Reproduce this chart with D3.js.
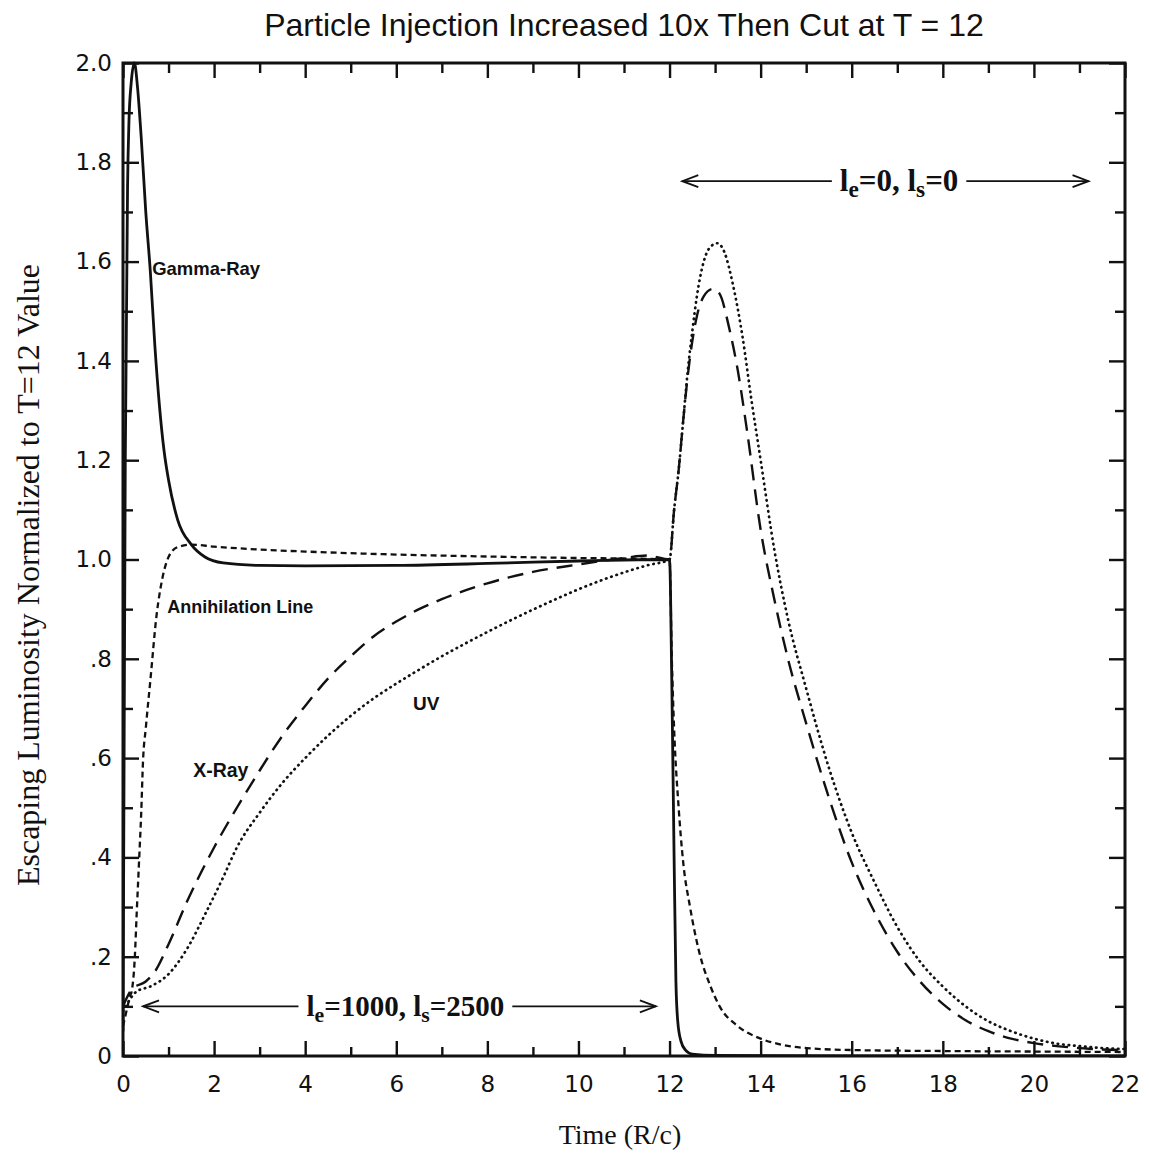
<!DOCTYPE html>
<html><head><meta charset="utf-8">
<script src="https://cdn.jsdelivr.net/npm/d3@7"></script>
<style>html,body{margin:0;padding:0;background:#fff;}</style>
</head><body>
<svg id="c" width="1149" height="1154"></svg>
<script>
// ---------- data ----------
const title = "Particle Injection Increased 10x Then Cut at T = 12";
const xTitle = "Time (R/c)";
const yTitle = "Escaping Luminosity Normalized to T=12 Value";
const xMajor = [0,2,4,6,8,10,12,14,16,18,20,22];
const xMinor = [1,3,5,7,9,11,13,15,17,19,21];
const yMajor = [0,0.2,0.4,0.6,0.8,1.0,1.2,1.4,1.6,1.8,2.0];
const yMajorLabels = ["0",".2",".4",".6",".8","1.0","1.2","1.4","1.6","1.8","2.0"];
const yMinor = [0.1,0.3,0.5,0.7,0.9,1.1,1.3,1.5,1.7,1.9];

const gammaT = [0,0.05,0.1,0.13,0.18,0.25,0.32,0.4,0.5,0.6,0.7,0.8,0.9,1.0,1.2,1.5,1.8,2.2,3,4,6,8,10,11,12,12.05,12.1,12.14,12.18,12.25,12.35,12.5,13,16,22];
const gammaV = [0.05,1.2,1.75,1.88,1.96,2.0,1.95,1.85,1.7,1.58,1.43,1.31,1.22,1.16,1.08,1.03,1.005,0.993,0.988,0.987,0.988,0.992,0.997,0.999,1.0,0.75,0.4,0.15,0.07,0.03,0.012,0.004,0.001,0,0];

const annT = [0,0.1,0.15,0.19,0.26,0.3,0.35,0.4,0.44,0.5,0.6,0.74,0.86,1.0,1.2,1.5,2,3,4,6,8,10,11,12,12.05,12.1,12.2,12.3,12.45,12.65,12.9,13.1,13.5,14,14.5,15,16,18,20,22];
const annV = [0.06,0.1,0.12,0.13,0.2,0.286,0.387,0.49,0.595,0.66,0.756,0.89,0.96,1.005,1.025,1.03,1.026,1.02,1.016,1.01,1.006,1.003,1.002,1.0,0.8,0.66,0.5,0.39,0.3,0.21,0.14,0.1,0.06,0.035,0.022,0.016,0.012,0.01,0.009,0.008];

const xrayT = [0,0.2,0.5,0.7,1.0,1.4,2.0,2.5,3.0,3.5,4.0,4.5,5.0,5.5,6.0,6.5,7,8,9,10,11,11.5,12,12.1,12.2,12.3,12.4,12.5,12.6,12.75,12.95,13.1,13.3,13.5,13.7,14.0,14.3,14.6,15.0,15.5,16.0,16.5,17.0,17.5,18.0,18.5,19,19.5,20,20.5,21,21.5,22];
const xrayV = [0.1,0.135,0.15,0.17,0.225,0.31,0.42,0.5,0.575,0.645,0.705,0.76,0.805,0.845,0.875,0.9,0.92,0.952,0.975,0.99,1.003,1.008,1.0,1.1,1.18,1.28,1.37,1.44,1.49,1.53,1.545,1.535,1.47,1.38,1.26,1.06,0.92,0.8,0.67,0.52,0.39,0.29,0.21,0.15,0.105,0.072,0.05,0.035,0.026,0.02,0.016,0.013,0.012];

const uvT = [0,0.3,0.6,1.0,1.4,1.8,2.2,2.5,3,3.5,4,4.5,5,5.5,6,6.5,7,7.5,8,8.5,9,9.5,10,10.5,11,11.5,12,12.1,12.2,12.3,12.4,12.5,12.6,12.75,12.9,13.05,13.2,13.4,13.6,13.8,14.0,14.3,14.6,15.0,15.5,16.0,16.5,17.0,17.5,18.0,18.5,19,19.5,20,20.5,21,21.5,22];
const uvV = [0.09,0.13,0.14,0.165,0.215,0.285,0.36,0.42,0.49,0.55,0.6,0.645,0.685,0.72,0.75,0.778,0.805,0.83,0.854,0.877,0.899,0.92,0.94,0.958,0.974,0.988,1.0,1.1,1.18,1.28,1.38,1.46,1.53,1.6,1.63,1.637,1.62,1.55,1.45,1.32,1.2,1.02,0.88,0.74,0.58,0.45,0.35,0.26,0.19,0.14,0.1,0.07,0.05,0.035,0.025,0.02,0.016,0.014];

const seriesNames = ["Gamma-Ray","Annihilation Line","X-Ray","UV"];

// ---------- drawing ----------
const svg = d3.select("#c");
const L = 123, R = 1125, T = 63, B = 1056;
const x = d3.scaleLinear().domain([0,22]).range([L,R]);
const y = d3.scaleLinear().domain([0,2]).range([B,T]);
const ink = "#111";

svg.append("rect").attr("width",1149).attr("height",1154).attr("fill","#fff");

// title
svg.append("text").attr("x",624).attr("y",36).attr("text-anchor","middle")
  .attr("font-family","'Liberation Sans', Arial, sans-serif").attr("font-size",32)
  .attr("fill",ink).text(title);

// axis titles
svg.append("text").attr("x",620).attr("y",1144).attr("text-anchor","middle")
  .attr("font-family","'Liberation Serif', 'Times New Roman', serif").attr("font-size",28)
  .attr("fill",ink).text(xTitle);
svg.append("text").attr("transform","translate(39,575) rotate(-90)").attr("text-anchor","middle")
  .attr("font-family","'Liberation Serif', 'Times New Roman', serif").attr("font-size",32)
  .attr("fill",ink).text(yTitle);

// clip
svg.append("defs").append("clipPath").attr("id","clip").append("rect")
  .attr("x",L).attr("y",T-2).attr("width",R-L).attr("height",B-T+2);

const tickFont = "'DejaVu Sans', sans-serif";
// bottom axis (ticks inward)
svg.append("g").attr("transform",`translate(0,${B})`)
  .call(d3.axisBottom(x).tickValues(xMajor).tickSize(-15).tickPadding(20).tickFormat(d3.format("d")));
svg.append("g").attr("transform",`translate(0,${B})`)
  .call(d3.axisBottom(x).tickValues(xMinor).tickSize(-9).tickFormat(""));
// top axis
svg.append("g").attr("transform",`translate(0,${T})`)
  .call(d3.axisTop(x).tickValues(xMajor).tickSize(-15).tickFormat(""));
svg.append("g").attr("transform",`translate(0,${T})`)
  .call(d3.axisTop(x).tickValues(xMinor).tickSize(-10).tickFormat(""));
// left axis
svg.append("g").attr("transform",`translate(${L},0)`)
  .call(d3.axisLeft(y).tickValues(yMajor).tickSize(-16).tickPadding(11)
    .tickFormat((d,i)=>yMajorLabels[i]));
svg.append("g").attr("transform",`translate(${L},0)`)
  .call(d3.axisLeft(y).tickValues(yMinor).tickSize(-10).tickFormat(""));
// right axis
svg.append("g").attr("transform",`translate(${R},0)`)
  .call(d3.axisRight(y).tickValues(yMajor).tickSize(-16).tickFormat(""));
svg.append("g").attr("transform",`translate(${R},0)`)
  .call(d3.axisRight(y).tickValues(yMinor).tickSize(-10).tickFormat(""));

svg.selectAll(".domain").remove();
svg.selectAll(".tick line").attr("stroke",ink).attr("stroke-width",2.4);
svg.selectAll(".tick text").attr("font-family",tickFont).attr("font-size",23).attr("fill",ink);

// frame
svg.append("rect").attr("x",L).attr("y",T).attr("width",R-L).attr("height",B-T)
  .attr("fill","none").attr("stroke",ink).attr("stroke-width",3);

// curves
const line = d3.line().x(d=>x(d[0])).y(d=>y(d[1])).curve(d3.curveMonotoneX);
const zip = (a,b)=>a.map((t,i)=>[t,b[i]]);
const curves = [
  {data: zip(gammaT,gammaV), dash: null, w: 2.8, cap:"butt"},
  {data: zip(annT,annV), dash: "6,4", w: 2.3, cap:"butt"},
  {data: zip(xrayT,xrayV), dash: "16,9", w: 2.4, cap:"butt"},
  {data: zip(uvT,uvV), dash: "0.5,5", w: 2.7, cap:"round"}
];
const cg = svg.append("g").attr("clip-path","url(#clip)");
curves.forEach(c=>{
  cg.append("path").attr("d",line(c.data)).attr("fill","none").attr("stroke",ink)
    .attr("stroke-width",c.w).attr("stroke-dasharray",c.dash).attr("stroke-linecap",c.cap)
    .attr("stroke-linejoin","round");
});

// series labels
const labFont = "'Liberation Sans', Arial, sans-serif";
const labels = [
  {t:0.64, v:1.587, s:seriesNames[0], fs:18.5},
  {t:0.97, v:0.905, s:seriesNames[1], fs:18},
  {t:1.54, v:0.575, s:seriesNames[2], fs:19.5},
  {t:6.37, v:0.71, s:seriesNames[3], fs:19}
];
labels.forEach(l=>{
  svg.append("text").attr("x",x(l.t)).attr("y",y(l.v)).attr("dy","0.35em")
    .attr("font-family",labFont).attr("font-size",l.fs).attr("font-weight","bold")
    .attr("fill",ink).text(l.s);
});

// arrows with regime labels
function arrowLabel(t0,t1,v,parts,textCenterT,fs){
  const yy = y(v), xa = x(t0), xb = x(t1), xc = x(textCenterT);
  const txt = svg.append("text").attr("x",xc).attr("y",yy).attr("dy","0.33em")
    .attr("text-anchor","middle").attr("font-family","'Liberation Serif', 'Times New Roman', serif")
    .attr("font-size",fs).attr("font-weight","bold").attr("fill",ink);
  parts.forEach(p=>{
    const ts = txt.append("tspan").text(p.s);
    if(p.sub){ ts.attr("font-size",fs*0.75).attr("dy",6); }
    else if(p.after){ ts.attr("dy",-6); }
  });
  const bb = txt.node().getBBox();
  const g = svg.append("g").attr("stroke",ink).attr("fill","none").attr("stroke-width",1.8);
  g.append("line").attr("x1",xa).attr("x2",bb.x-8).attr("y1",yy).attr("y2",yy);
  g.append("line").attr("x1",bb.x+bb.width+8).attr("x2",xb).attr("y1",yy).attr("y2",yy);
  g.append("path").attr("d",`M${xa+16},${yy-6} L${xa},${yy} L${xa+16},${yy+6}`);
  g.append("path").attr("d",`M${xb-16},${yy-6} L${xb},${yy} L${xb-16},${yy+6}`);
}
arrowLabel(12.28, 21.2, 1.762,
  [{s:"l"},{s:"e",sub:true},{s:"=0, l",after:true},{s:"s",sub:true},{s:"=0",after:true}], 17.04, 31);
arrowLabel(0.44, 11.7, 0.1,
  [{s:"l"},{s:"e",sub:true},{s:"=1000, l",after:true},{s:"s",sub:true},{s:"=2500",after:true}], 6.2, 29);
</script>
</body></html>
